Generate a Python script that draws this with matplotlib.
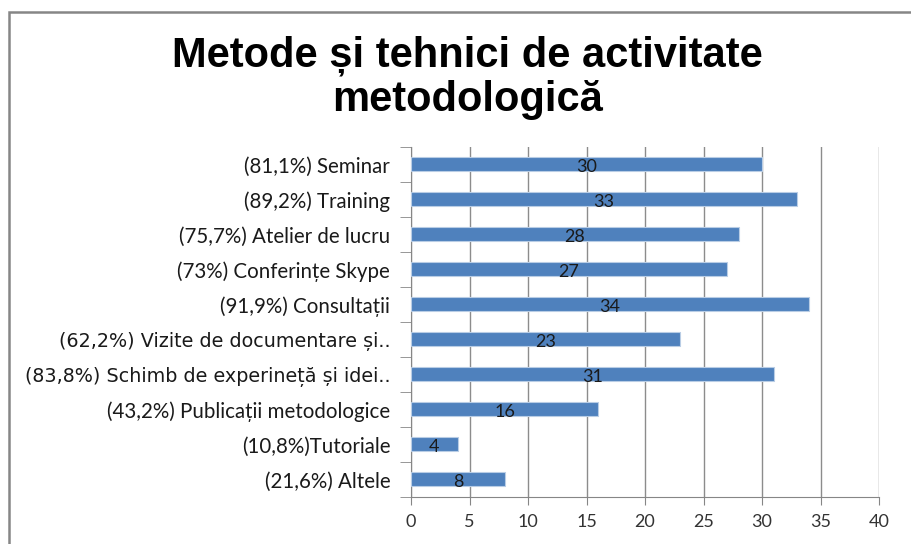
import matplotlib.pyplot as plt
from matplotlib.patches import Rectangle
import numpy as np

# data (top to bottom as shown)
categories = [
    "(81,1%) Seminar",
    "(89,2%) Training",
    "(75,7%) Atelier de lucru",
    "(73%) Conferințe Skype",
    "(91,9%) Consultații",
    "(62,2%) Vizite de documentare și..",
    "(83,8%) Schimb de experineță și idei..",
    "(43,2%) Publicații metodologice",
    "(10,8%)Tutoriale",
    "(21,6%) Altele",
]
values = [30, 33, 28, 27, 34, 23, 31, 16, 4, 8]
# these two labels are drawn in a different (wider) font in the original
wide_labels = [5, 6]

fig = plt.figure(figsize=(9.11, 5.44), dpi=100)
ax = fig.add_axes([0.4512, 0.0864, 0.5137, 0.6434])

y = np.arange(len(categories))
ax.barh(y, values, height=0.4, color='#4F81BD', edgecolor='#B9CDE5',
        linewidth=0.8, zorder=3)

for yi, v in zip(y, values):
    ax.text(v / 2, yi + 0.07, str(v), ha='center', va='center',
            fontsize=13, family='Lato', color='#1a1a1a', zorder=4)

ax.set_xlim(0, 40)
ax.set_ylim(len(categories) - 0.5, -0.5)
ax.set_xticks(np.arange(0, 41, 5))
ax.tick_params(axis='x', length=6, color='#868686', labelsize=13,
               labelcolor='#333333', pad=6)
for lab in ax.get_xticklabels():
    lab.set_family('Lato')

ax.set_yticks(y)
ax.set_yticklabels(categories)
ax.tick_params(axis='y', length=0, pad=15, labelsize=14.8, labelcolor='#1a1a1a')
for i, lab in enumerate(ax.get_yticklabels()):
    if i in wide_labels:
        lab.set_family('DejaVu Sans')
        lab.set_fontsize(13.8)
    else:
        lab.set_family('Lato')
ax.set_yticks(np.arange(-0.5, len(categories), 1), minor=True)
ax.tick_params(axis='y', which='minor', length=8, color='#868686')

ax.grid(axis='x', color='#8c8c8c', linewidth=1, zorder=0)
for s in ['top', 'right']:
    ax.spines[s].set_visible(False)
for s in ['left', 'bottom']:
    ax.spines[s].set_color('#868686')

fig.text(0.513, 1 - 66 / 544, "Metode și tehnici de activitate",
         ha='center', va='baseline', fontsize=30, fontweight='bold',
         family='Liberation Sans')
fig.text(0.513, 1 - 111 / 544, "metodologică",
         ha='center', va='baseline', fontsize=30, fontweight='bold',
         family='Liberation Sans')

# chart area border (cut off at right and bottom)
fig.patches.append(Rectangle((9 / 911, -0.1), 1.1, 1 - 12 / 544 + 0.1,
                             transform=fig.transFigure, fill=False,
                             edgecolor='#868686', linewidth=1.8))

fig.savefig('out.png', dpi=100)
